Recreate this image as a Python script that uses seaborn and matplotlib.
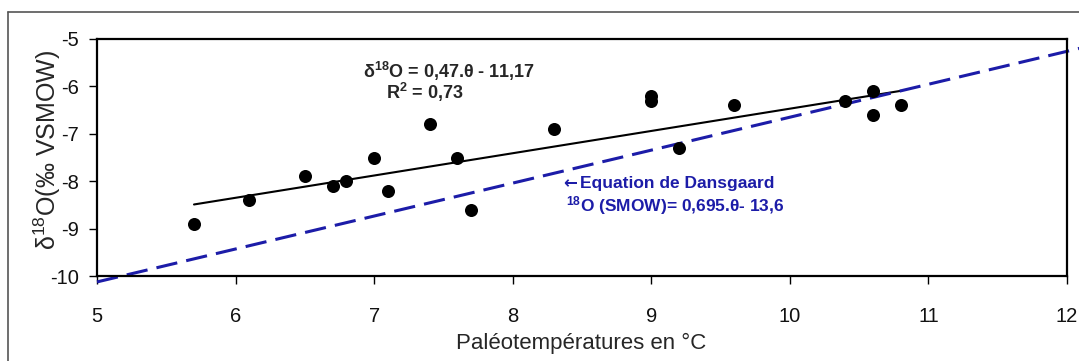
import numpy as np
import pandas as pd
import matplotlib
matplotlib.use("Agg")
import matplotlib.pyplot as plt
import seaborn as sns
from matplotlib.lines import Line2D

# ---- data ----
temps = [5.7, 6.1, 6.5, 6.7, 6.8, 7.0, 7.1, 7.4, 7.6, 7.7, 8.3, 9.0, 9.0, 9.2, 9.6, 10.4, 10.6, 10.6, 10.8]
d18o = [-8.9, -8.4, -7.9, -8.1, -8.0, -7.5, -8.2, -6.8, -7.5, -8.6, -6.9, -6.2, -6.3, -7.3, -6.4, -6.3, -6.1, -6.6, -6.4]
fit_slope, fit_intercept = 0.47, -11.17
dans_slope, dans_intercept = 0.695, -13.6
dans_x = [5.0, 12.1]
x_ticks = [5, 6, 7, 8, 9, 10, 11, 12]
y_ticks = [-10, -9, -8, -7, -6, -5]

sns.set_theme(style="white")
plt.rcParams['font.family'] = ['Liberation Sans', 'DejaVu Sans']
plt.rcParams['mathtext.default'] = 'regular'

W, H = 1079, 361
AX_L, AX_R, AX_T, AX_B = 97, 1067, 39, 276
fig = plt.figure(figsize=(W/100, H/100), dpi=100)
ax = fig.add_axes([AX_L/W, 1-AX_B/H, (AX_R-AX_L)/W, (AX_B-AX_T)/H])

BLUE = "#1c1ca8"

df = pd.DataFrame({"T": temps, "d": d18o})
sns.scatterplot(data=df, x="T", y="d", ax=ax, color="black", s=88, edgecolor="black", linewidth=0, zorder=3)

fx = np.array([min(temps), max(temps)])
fit_df = pd.DataFrame({"T": fx, "d": fit_slope * fx + fit_intercept})
sns.lineplot(data=fit_df, x="T", y="d", ax=ax, color="black", linewidth=1.5, zorder=2)

dx = np.array(dans_x)
dans_df = pd.DataFrame({"T": dx, "d": dans_slope * dx + dans_intercept})
sns.lineplot(data=dans_df, x="T", y="d", ax=ax, color=BLUE, linewidth=2.2, zorder=2)
dl = ax.lines[-1]
dl.set_dashes([7, 3])
dl.set_clip_on(False)

ax.set_xlim(5, 12)
ax.set_ylim(-10, -5)
ax.set_xticks(x_ticks)
ax.set_yticks(y_ticks)
ax.set_xticklabels([str(t) for t in x_ticks], fontsize=14.5)
ax.set_yticklabels([str(t) for t in y_ticks], fontsize=14.5)
ax.tick_params(axis='both', direction='out', length=6, width=1, color='black', bottom=True, left=True,
               labelcolor='#111111')
ax.tick_params(axis='x', pad=16)
ax.tick_params(axis='y', pad=7)
for s in ax.spines.values():
    s.set_color('black')
    s.set_linewidth(1.6)

ax.set_xlabel("Paléotempératures en °C", fontsize=16)
ax.xaxis.set_label_coords((581-AX_L)/(AX_R-AX_L), (AX_B-343)/(AX_B-AX_T))
ax.xaxis.label.set_va('center')
ax.set_ylabel("δ$^{18}$O(‰ VSMOW)", fontsize=18)
ax.yaxis.set_label_coords((47-AX_L)/(AX_R-AX_L), (AX_B-150)/(AX_B-AX_T))
ax.yaxis.label.set_va('center')

def fy(y):
    return 1 - y / H

ax.text(363/W, fy(78), "δ$^{18}$O = 0,47.θ - 11,17", transform=fig.transFigure,
        fontsize=13, fontweight='bold', ha='left', va='baseline')
ax.text(386/W, fy(99), "R$^{2}$ = 0,73", transform=fig.transFigure,
        fontsize=13, fontweight='bold', ha='left', va='baseline')
ax.text(563/W, fy(188), "←", transform=fig.transFigure, family='DejaVu Sans',
        fontsize=12, fontweight='bold', ha='left', va='baseline', color=BLUE)
ax.text(580/W, fy(188), "Equation de Dansgaard", transform=fig.transFigure,
        fontsize=12.5, fontweight='bold', ha='left', va='baseline', color=BLUE)
ax.text(566/W, fy(211), "$^{18}$O (SMOW)= 0,695.θ- 13,6", transform=fig.transFigure,
        fontsize=12.5, fontweight='bold', ha='left', va='baseline', color=BLUE)

# outer frame (left and top edges)
fig.add_artist(Line2D([8/W, 8/W], [0, fy(12)], transform=fig.transFigure, color='#555555', lw=1.2))
fig.add_artist(Line2D([8/W, 1], [fy(12), fy(12)], transform=fig.transFigure, color='#555555', lw=1.2))

fig.savefig("out.png", dpi=100)
